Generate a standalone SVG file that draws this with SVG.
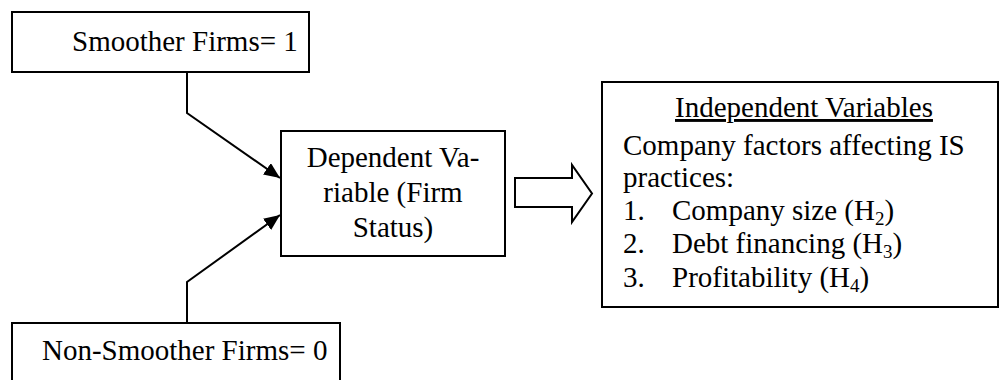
<svg xmlns="http://www.w3.org/2000/svg" width="1000" height="380" viewBox="0 0 1000 380">
<defs>
<style>
.box{fill:#fff;stroke:#000;stroke-width:2}
.t{font-family:'Liberation Serif','Times New Roman',serif;font-size:29px;fill:#000}
.c{text-anchor:middle}
.conn{fill:none;stroke:#000;stroke-width:2}
.sub{font-size:19px}
</style>
<marker id="ah" viewBox="0 0 16 14" markerWidth="16" markerHeight="14" markerUnits="userSpaceOnUse" refX="16" refY="7" orient="auto">
<path d="M0,0 L16,7 L0,14 Z" fill="#000"/>
</marker>
</defs>
<rect width="1000" height="380" fill="#fff"/>
<g id="connectors">
<path class="conn" d="M187,72 V113 L280,178" marker-end="url(#ah)"/>
<path class="conn" d="M187,323 V282 L280,215" marker-end="url(#ah)"/>
<path class="conn" d="M515,178 H572 V165 L592,193.5 L572,222 V207 H515 Z"/>
</g>
<g id="smoother">
<rect class="box" x="12" y="12" width="297" height="60"/>
<text class="t" x="72" y="51">Smoother Firms= 1</text>
</g>
<g id="nonsmoother">
<rect class="box" x="12" y="323" width="328" height="80"/>
<text class="t" x="42" y="360">Non-Smoother Firms= 0</text>
</g>
<g id="dependent">
<rect class="box" x="281" y="131" width="224" height="125"/>
<text class="t c" x="393" y="167">Dependent Va-</text>
<text class="t c" x="393" y="202">riable (Firm</text>
<text class="t c" x="393" y="237">Status)</text>
</g>
<g id="independent">
<rect class="box" x="602" y="82" width="396" height="225"/>
<text class="t" x="675" y="117" text-decoration="underline">Independent Variables</text>
<text class="t" x="623" y="155">Company factors affecting IS</text>
<text class="t" x="623" y="187">practices:</text>
<text class="t" x="623" y="220">1.</text>
<text class="t" x="672" y="220">Company size (H<tspan class="sub" dy="5">2</tspan><tspan dy="-5">)</tspan></text>
<text class="t" x="623" y="253">2.</text>
<text class="t" x="672" y="253">Debt financing (H<tspan class="sub" dy="5">3</tspan><tspan dy="-5">)</tspan></text>
<text class="t" x="623" y="287">3.</text>
<text class="t" x="672" y="287">Profitability (H<tspan class="sub" dy="5">4</tspan><tspan dy="-5">)</tspan></text>
</g>
</svg>
